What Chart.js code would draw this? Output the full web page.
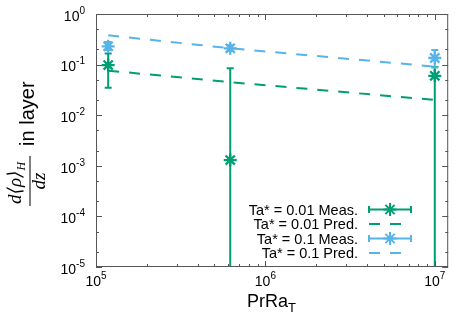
<html>
<head>
<meta charset="UTF-8">
<title>Density gradient in layer</title>
<style>
body {
    margin: 0;
    padding: 0;
    background: white;
}
canvas {
    display: block;
}
</style>
<script src="https://cdnjs.cloudflare.com/ajax/libs/Chart.js/4.4.1/chart.umd.min.js"></script>
</head>
<body>
<canvas id="canvas" width="457" height="321"></canvas>
</body>
<script>
// values
const xMeas = [1.18e5, 6.2e5, 1.0e7]
const lowMeas = [0.098, 0.0013, 0.06]
const lowErrLo = [0.035, 1e-6, 1e-6]
const lowErrHi = [0.165, 0.085, 0.09]
const highMeas = [0.23, 0.21, 0.135]
const highErrLo = [0.195, 0.185, 0.088]
const highErrHi = [0.28, 0.24, 0.195]
const xPred = [1.18e5, 6.2e5, 1.0e7]
const lowPred = [0.076, 0.045, 0.02]
const highPred = [0.38, 0.21, 0.091]
const labels = ["Ta* = 0.01 Meas.", "Ta* = 0.01 Pred.", "Ta* = 0.1 Meas.", "Ta* = 0.1 Pred."]
const xTickExp = [5, 6, 7]
const yTickExp = [0, -1, -2, -3, -4, -5]

const GREEN = "#009e73"
const BLUE = "#56b4e9"
const FONT = "'Liberation Sans', Helvetica, Arial, sans-serif"
const SERIF = "'Liberation Serif', 'DejaVu Serif', serif"
const DASH = [11, 10]

function pts(xs, ys) {
    return xs.map((x, i) => ({x: x, y: ys[i]}))
}

function star(ctx, x, y, r) {
    const d = r * Math.SQRT1_2
    ctx.beginPath()
    ctx.moveTo(x - r, y); ctx.lineTo(x + r, y)
    ctx.moveTo(x, y - r); ctx.lineTo(x, y + r)
    ctx.moveTo(x - d, y - d); ctx.lineTo(x + d, y + d)
    ctx.moveTo(x - d, y + d); ctx.lineTo(x + d, y - d)
    ctx.stroke()
}

// error bars drawn through the chart scales
const errorBars = {
    id: "errorBars",
    beforeDatasetsDraw(chart) {
        const ctx = chart.ctx, a = chart.chartArea
        const xs = chart.scales.x, ys = chart.scales.y
        ctx.save()
        ctx.beginPath()
        ctx.rect(a.left, a.top, a.right - a.left, a.bottom - a.top)
        ctx.clip()
        chart.data.datasets.forEach(ds => {
            if (!ds.errLo) return
            ctx.strokeStyle = ds.borderColor
            ctx.lineWidth = 2
            ds.data.forEach((p, i) => {
                const px = xs.getPixelForValue(p.x)
                const y1 = ys.getPixelForValue(ds.errLo[i])
                const y2 = ys.getPixelForValue(ds.errHi[i])
                ctx.beginPath()
                ctx.moveTo(px, y1); ctx.lineTo(px, y2)
                ctx.moveTo(px - 3.5, y1); ctx.lineTo(px + 3.5, y1)
                ctx.moveTo(px - 3.5, y2); ctx.lineTo(px + 3.5, y2)
                ctx.stroke()
            })
        })
        ctx.restore()
    }
}

// gnuplot-like frame, inward ticks, 10^n labels, axis titles and key
const frame = {
    id: "frame",
    afterDraw(chart) {
        const ctx = chart.ctx, a = chart.chartArea
        const xs = chart.scales.x, ys = chart.scales.y
        ctx.save()
        ctx.strokeStyle = "#555"
        ctx.lineWidth = 1
        ctx.strokeRect(a.left + 0.5, a.top + 0.5, a.right - a.left - 1, a.bottom - a.top - 1)
        ctx.beginPath()
        xTickExp.forEach(e => {
            for (let k = 1; k <= 9; k++) {
                const v = k * Math.pow(10, e)
                if (v > xs.max) break
                const px = Math.round(xs.getPixelForValue(v)) + 0.5
                const len = k == 1 ? 6 : 3
                ctx.moveTo(px, a.bottom); ctx.lineTo(px, a.bottom - len)
                ctx.moveTo(px, a.top); ctx.lineTo(px, a.top + len)
            }
        })
        yTickExp.forEach(e => {
            [1, 2, 5].forEach(k => {
                const v = k * Math.pow(10, e)
                if (v > ys.max) return
                const py = Math.round(ys.getPixelForValue(v)) + 0.5
                const len = k == 1 ? 6 : 3
                ctx.moveTo(a.left, py); ctx.lineTo(a.left + len, py)
                ctx.moveTo(a.right, py); ctx.lineTo(a.right - len, py)
            })
        })
        ctx.stroke()

        ctx.fillStyle = "black"
        ctx.textBaseline = "middle"
        const base = "14px " + FONT, sup = "10px " + FONT
        yTickExp.forEach(e => {
            const py = ys.getPixelForValue(Math.pow(10, e))
            ctx.font = sup
            const ew = ctx.measureText(String(e)).width
            ctx.textAlign = "right"
            ctx.fillText(String(e), 85, py - 3)
            ctx.font = base
            ctx.fillText("10", 85 - ew, py + 3)
        })
        xTickExp.forEach(e => {
            const px = xs.getPixelForValue(Math.pow(10, e))
            ctx.font = base
            const bw = ctx.measureText("10").width
            ctx.font = sup
            const ew = ctx.measureText(String(e)).width
            const x0 = px - (bw + ew) / 2
            ctx.textAlign = "left"
            ctx.fillText(String(e), x0 + bw, a.bottom + 9)
            ctx.font = base
            ctx.fillText("10", x0, a.bottom + 15)
        })

        // x title
        ctx.font = "18px " + FONT
        ctx.textAlign = "left"
        ctx.textBaseline = "alphabetic"
        const tw = ctx.measureText("PrRa").width
        ctx.fillText("PrRa", 247, 307)
        ctx.font = "13px " + FONT
        ctx.fillText("T", 247 + tw, 312)

        // y title, rotated
        ctx.save()
        ctx.translate(30, 206)
        ctx.rotate(-Math.PI / 2)
        ctx.font = "italic 19px " + SERIF
        const num = "d\u27e8\u03c1\u27e9"
        const nw = ctx.measureText(num).width
        ctx.font = "italic 12px " + SERIF
        const hw = ctx.measureText("H").width
        const fw = nw + hw + 4
        ctx.font = "italic 19px " + SERIF
        ctx.fillText(num, 2, -9)
        ctx.font = "italic 12px " + SERIF
        ctx.fillText("H", 2 + nw, -5)
        ctx.font = "italic 19px " + SERIF
        const dw = ctx.measureText("dz").width
        ctx.fillText("dz", 2 + (fw - dw) / 2, 15)
        ctx.fillRect(0, -0.5, fw + 4, 1)
        ctx.font = "20px " + FONT
        ctx.fillText("in layer", fw + 14, 4)
        ctx.restore()

        // key
        ctx.font = "14.5px " + FONT
        ctx.textAlign = "right"
        ctx.textBaseline = "middle"
        chart.data.datasets.forEach((ds, i) => {
            const y = 209.5 + i * 14.5
            ctx.fillStyle = "black"
            ctx.fillText(ds.label, 358, y + 1)
            ctx.strokeStyle = ds.borderColor
            ctx.lineWidth = 2
            if (ds.errLo) {
                ctx.beginPath()
                ctx.moveTo(369, y); ctx.lineTo(411, y)
                ctx.moveTo(369, y - 3.5); ctx.lineTo(369, y + 3.5)
                ctx.moveTo(411, y - 3.5); ctx.lineTo(411, y + 3.5)
                ctx.stroke()
                star(ctx, 390, y, 6.5)
            } else {
                ctx.setLineDash(DASH)
                ctx.beginPath()
                ctx.moveTo(369, y); ctx.lineTo(411, y)
                ctx.stroke()
                ctx.setLineDash([])
            }
        })
        ctx.restore()
    }
}

const ctx = document.getElementById("canvas").getContext("2d")
const chart = new Chart(ctx, {
    type: "scatter",
    data: {
        datasets: [
            {label: labels[0], data: pts(xMeas, lowMeas), errLo: lowErrLo, errHi: lowErrHi,
             borderColor: GREEN, backgroundColor: GREEN, pointStyle: "star", pointRadius: 6.5, borderWidth: 2.3, order: 3},
            {label: labels[1], data: pts(xPred, lowPred), showLine: true, borderDash: DASH,
             borderColor: GREEN, backgroundColor: GREEN, pointRadius: 0, borderWidth: 2, order: 2},
            {label: labels[2], data: pts(xMeas, highMeas), errLo: highErrLo, errHi: highErrHi,
             borderColor: BLUE, backgroundColor: BLUE, pointStyle: "star", pointRadius: 6.5, borderWidth: 2.3, order: 1},
            {label: labels[3], data: pts(xPred, highPred), showLine: true, borderDash: DASH,
             borderColor: BLUE, backgroundColor: BLUE, pointRadius: 0, borderWidth: 2, order: 0},
        ],
    },
    options: {
        responsive: false,
        animation: false,
        layout: {padding: {left: 0, top: 14, right: 8, bottom: 0}},
        plugins: {legend: {display: false}, tooltip: {enabled: false}},
        scales: {
            x: {
                type: "logarithmic", min: 1e5, max: 1.2e7,
                grid: {display: false}, border: {display: false},
                ticks: {display: false},
                afterFit: s => { s.height = 54 },
            },
            y: {
                type: "logarithmic", min: 1e-5, max: 1,
                grid: {display: false}, border: {display: false},
                ticks: {display: false},
                afterFit: s => { s.width = 96 },
            },
        },
    },
    plugins: [errorBars, frame],
})
</script>
</html>
